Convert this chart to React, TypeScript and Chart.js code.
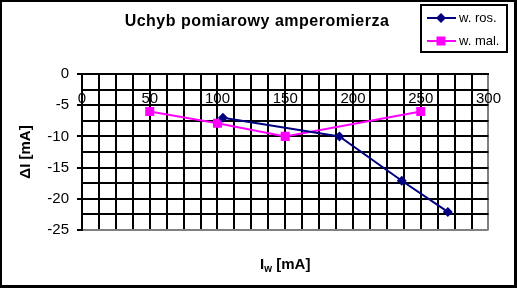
import React, { useEffect, useRef } from "react";
import { Chart, registerables } from "chart.js";

Chart.register(...registerables);

const chartTitle = "Uchyb pomiarowy amperomierza";
const yTitle = "ΔI [mA]";
const seriesNames = ["w. ros.", "w. mal."];
const rosX = [104, 190, 236, 270];
const rosY = [-7, -10, -17.1, -22.1];
const malX = [50, 100, 150, 250];
const malY = [-6, -7.9, -10, -6];
const xMin = 0;
const xMax = 300;
const yMin = -25;
const yMax = 0;

const FONT = '"Liberation Sans", Arial, sans-serif';
const NAVY = "#000080";
const MAGENTA = "#FF00FF";

const decorPlugin = {
  id: "decor",
  afterDraw(chart: any) {
    const ctx = chart.ctx as CanvasRenderingContext2D;
    const area = chart.chartArea;
    ctx.save();
    // Title
    ctx.fillStyle = "#000";
    ctx.font = `bold 16px ${FONT}`;
    (ctx as any).letterSpacing = "0.5px";
    ctx.textAlign = "center";
    ctx.textBaseline = "middle";
    ctx.fillText(chartTitle, 257, 22);
    (ctx as any).letterSpacing = "0px";

    // Y title
    ctx.save();
    ctx.translate(26, (area.top + area.bottom) / 2);
    ctx.rotate(-Math.PI / 2);
    ctx.font = `bold 15px ${FONT}`;
    ctx.textAlign = "center";
    ctx.textBaseline = "middle";
    ctx.fillText(yTitle, 0, 0);
    ctx.restore();

    // X title: I with subscript w, then [mA]
    const big = `bold 15px ${FONT}`;
    const small = `bold 10px ${FONT}`;
    ctx.textAlign = "left";
    ctx.textBaseline = "middle";
    ctx.font = big;
    const wI = ctx.measureText("I").width;
    const wRest = ctx.measureText(" [mA]").width;
    ctx.font = small;
    const wSub = ctx.measureText("w").width;
    const total = wI + wSub + wRest;
    let x0 = (area.left + area.right) / 2 - total / 2;
    const yT = 265;
    ctx.font = big;
    ctx.fillText("I", x0, yT);
    x0 += wI;
    ctx.font = small;
    ctx.fillText("w", x0, yT + 4);
    x0 += wSub;
    ctx.font = big;
    ctx.fillText(" [mA]", x0, yT);

    // Legend
    ctx.strokeStyle = "#000";
    ctx.lineWidth = 2;
    ctx.strokeRect(421, 5, 86, 47);
    const rows = [
      { y: 18, color: NAVY, shape: "diamond", label: seriesNames[0] },
      { y: 41, color: MAGENTA, shape: "square", label: seriesNames[1] },
    ];
    for (const r of rows) {
      ctx.strokeStyle = r.color;
      ctx.lineWidth = 2;
      ctx.beginPath();
      ctx.moveTo(427, r.y);
      ctx.lineTo(456, r.y);
      ctx.stroke();
      ctx.fillStyle = r.color;
      ctx.beginPath();
      if (r.shape === "diamond") {
        ctx.moveTo(441, r.y - 5);
        ctx.lineTo(446, r.y);
        ctx.lineTo(441, r.y + 5);
        ctx.lineTo(436, r.y);
        ctx.closePath();
        ctx.fill();
      } else {
        ctx.fillRect(436.5, r.y - 4.5, 9, 9);
      }
      ctx.fillStyle = "#000";
      ctx.font = `13px ${FONT}`;
      ctx.textAlign = "left";
      ctx.textBaseline = "middle";
      ctx.fillText(r.label, 459, r.y);
    }

    // Outer border
    ctx.fillStyle = "#000";
    const W = chart.width;
    const H = chart.height;
    ctx.fillRect(0, 0, W, 2);
    ctx.fillRect(0, 0, 2, H);
    ctx.fillRect(W - 3, 0, 3, H);
    ctx.fillRect(0, H - 3, W, 3);
    ctx.restore();
  },
  beforeDraw(chart: any) {
    const ctx = chart.ctx as CanvasRenderingContext2D;
    ctx.save();
    ctx.fillStyle = "#fff";
    ctx.fillRect(0, 0, chart.width, chart.height);
    ctx.restore();
  },
};

export default function App() {
  const ref = useRef<HTMLCanvasElement | null>(null);
  useEffect(() => {
    document.body.style.margin = "0";
    const canvas = ref.current;
    if (!canvas) return;
    const chart = new Chart(canvas, {
      type: "scatter",
      data: {
        datasets: [
          {
            label: seriesNames[0],
            data: rosX.map((x, i) => ({ x, y: rosY[i] })),
            showLine: true,
            borderColor: NAVY,
            backgroundColor: NAVY,
            borderWidth: 2,
            pointStyle: "rectRot",
            pointRadius: 5,
            pointBorderWidth: 0,
          },
          {
            label: seriesNames[1],
            data: malX.map((x, i) => ({ x, y: malY[i] })),
            showLine: true,
            borderColor: MAGENTA,
            backgroundColor: MAGENTA,
            borderWidth: 2,
            pointStyle: "rect",
            pointRadius: 6.4,
            pointBorderWidth: 0,
          },
        ],
      },
      options: {
        animation: false,
        responsive: false,
        devicePixelRatio: 1,
        layout: { padding: { left: 0, top: 74, right: 27, bottom: 58 } },
        plugins: {
          legend: { display: false },
          title: { display: false },
          tooltip: { enabled: false },
        },
        scales: {
          x: {
            type: "linear",
            position: { y: 0 } as any,
            min: xMin,
            max: xMax,
            ticks: {
              stepSize: 12.5,
              autoSkip: false,
              maxRotation: 0,
              padding: 16,
              color: "#000",
              font: { family: FONT, size: 15 },
              callback: (v: any) => (Number(v) % 50 === 0 ? String(v) : ""),
            },
            grid: {
              drawTicks: false,
              lineWidth: 2,
              color: (c: any) => (c.tick && c.tick.value === xMax ? "#808080" : "#000"),
            },
            border: { display: true, color: "#000", width: 2 },
          },
          y: {
            type: "linear",
            min: yMin,
            max: yMax,
            afterFit: (s: any) => {
              s.width = 82;
            },
            ticks: {
              stepSize: 2.5,
              autoSkip: false,
              padding: 8,
              color: "#000",
              font: { family: FONT, size: 15 },
              callback: (v: any) => (Number(v) % 5 === 0 ? String(v) : ""),
            },
            grid: {
              tickLength: 5,
              lineWidth: 2,
              color: (c: any) => (c.tick && c.tick.value === yMin ? "#808080" : "#000"),
              tickColor: (c: any) =>
                c.tick && c.tick.value % 5 === 0 ? "#000" : "rgba(0,0,0,0)",
            },
            border: { display: true, color: "#000", width: 2 },
          },
        },
      },
      plugins: [decorPlugin],
    });
    return () => chart.destroy();
  }, []);
  return (
    <canvas
      ref={ref}
      width={517}
      height={288}
      style={{ display: "block", width: 517, height: 288 }}
    />
  );
}
